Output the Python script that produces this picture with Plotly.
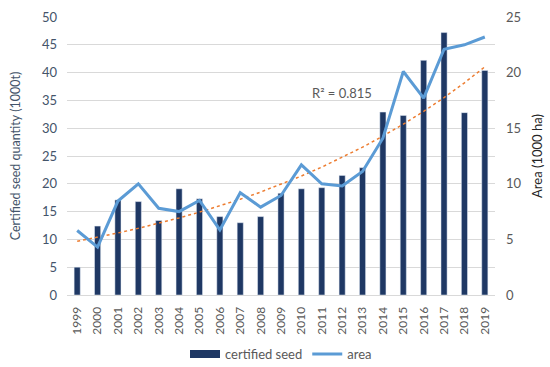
import numpy as np
import plotly.graph_objects as go

years = list(range(1999, 2020))
certified_seed = [5.0, 12.4, 17.1, 16.8, 13.4, 19.1, 17.3, 14.1, 13.0, 14.1,
                  18.3, 19.1, 19.3, 21.5, 22.9, 32.9, 32.3, 42.2, 47.2, 32.8, 40.4]
area = [5.8, 4.3, 8.45, 10.0, 7.8, 7.5, 8.5, 5.85, 9.2, 7.9,
        8.95, 11.7, 10.0, 9.8, 11.1, 14.1, 20.1, 17.7, 22.1, 22.5, 23.2]

# exponential trendline fitted on certified seed (spreadsheet-style trendline)
t = np.arange(len(years), dtype=float)
b, a = np.polyfit(t, np.log(np.array(certified_seed)), 1)
trend = [float(v) for v in np.exp(a + b * t)]

NAVY = "#1f3864"
font = "Lato, 'Open Sans', sans-serif"
fig = go.Figure()
fig.add_trace(go.Bar(x=years, y=certified_seed, name="certified seed",
                     marker_color=NAVY, yaxis="y", showlegend=False))
# legend-only entry with a wide swatch like the original
fig.add_trace(go.Scatter(x=[None], y=[None], name="certified seed", mode="lines",
                         line=dict(color=NAVY, width=8), yaxis="y"))
fig.add_trace(go.Scatter(x=years, y=area, name="area", mode="lines",
                         line=dict(color="#5b9bd5", width=3), yaxis="y2"))
fig.add_trace(go.Scatter(x=years, y=trend, name="trend", mode="lines",
                         line=dict(color="#ed7d31", width=1.5, dash="dot"),
                         yaxis="y", showlegend=False))

fig.update_layout(
    width=550, height=367,
    margin=dict(l=67, r=55, t=17, b=72),
    paper_bgcolor="white", plot_bgcolor="white",
    font=dict(family=font, size=13, color="#595959"),
    bargap=0.7,
    xaxis=dict(range=[1998.5, 2019.5], tickmode="linear", tick0=1999, dtick=1,
               tickangle=-90, showgrid=False, ticklabelstandoff=6,
               tickfont=dict(size=12, color="#595959"), ticks="",
               showline=True, linecolor="#d9d9d9", automargin=False),
    yaxis=dict(range=[0, 50], dtick=5, gridcolor="#d9d9d9", zeroline=False,
               tickfont=dict(size=13, color="#44546a"), automargin=False,
               ticklabelstandoff=9,
               title=dict(text="Certified seed quantity (1000t)",
                          font=dict(size=12.5, color="#44546a"), standoff=18)),
    yaxis2=dict(range=[0, 25], dtick=5, overlaying="y", side="right",
                showgrid=False, zeroline=False, automargin=False,
                ticklabelstandoff=10,
                tickfont=dict(size=13, color="#595959"),
                title=dict(text="Area (1000 ha)",
                           font=dict(size=13, color="#262626"), standoff=12)),
    legend=dict(orientation="h", x=0.5, xanchor="center", yref="container",
                y=0.035, yanchor="middle", font=dict(size=13, color="#595959"),
                itemwidth=30, bgcolor="rgba(0,0,0,0)"),
    annotations=[dict(x=2012, y=18.2, xref="x", yref="y2",
                      text="R² = 0.815", showarrow=False,
                      font=dict(size=13, color="#595959"))],
)

fig.write_html("out.html", config={"displayModeBar": False},
               post_script="document.body.style.margin='0';document.body.style.padding='0';")
